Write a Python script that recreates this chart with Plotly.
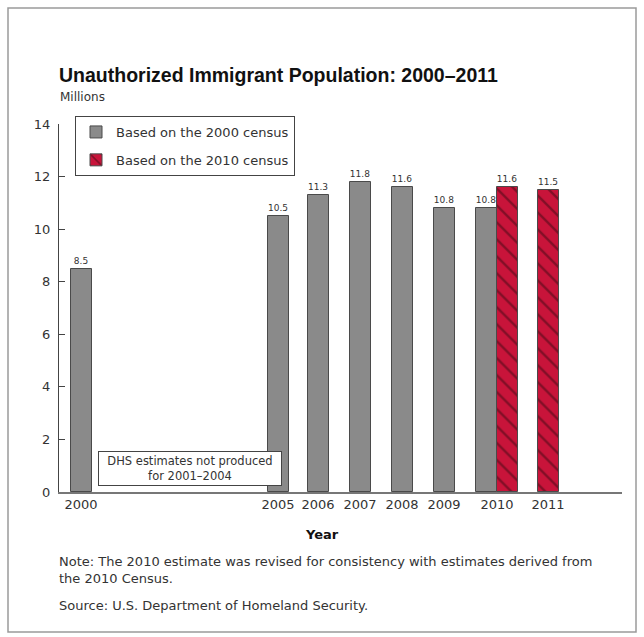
import plotly.graph_objects as go

# ---------------- data ----------------
years = ["2000", "2005", "2006", "2007", "2008", "2009", "2010", "2011"]
census2000_years = ["2000", "2005", "2006", "2007", "2008", "2009", "2010"]
census2000_vals = [8.5, 10.5, 11.3, 11.8, 11.6, 10.8, 10.8]
census2010_years = ["2010", "2011"]
census2010_vals = [11.6, 11.5]
y_ticks = [0, 2, 4, 6, 8, 10, 12, 14]

# ---------------- layout (positions in pixel-like axis units) ----------------
W, H = 644, 637
PL, PR, PT, PB = 59, 622, 124, 492          # plot area in pixels
slot_pos = {"2000": 81, "2005": 278, "2006": 318, "2007": 360,
            "2008": 402, "2009": 444, "2010": 497, "2011": 548}
BW = 21

GREY = "#8a8a8a"
RED = "#c8143a"
EDGE = "#4a4a4a"
TXT = "#333333"
FONT = "DejaVu Sans"
TFONT = "Liberation Sans"


def px_x(x):
    return (x - PL) / (PR - PL)


def px_y(y):
    return (PB - y) / (PB - PT)


shared = set(census2000_years) & set(census2010_years)
off_a = [(-BW if y in shared else -BW / 2) for y in census2000_years]
off_b = [(0 if y in shared else -BW / 2) for y in census2010_years]

fig = go.Figure()
fig.add_trace(go.Bar(
    x=[slot_pos[y] for y in census2000_years], y=census2000_vals,
    width=BW, offset=off_a, name="Based on the 2000 census", legendgroup="a",
    marker=dict(color=GREY, line=dict(color=EDGE, width=1)),
    text=[f"{v:.1f}" for v in census2000_vals], textposition="outside",
    textfont=dict(size=9, color=TXT, family=FONT), cliponaxis=False,
))
fig.add_trace(go.Bar(
    x=[slot_pos[y] for y in census2010_years], y=census2010_vals,
    width=BW, offset=off_b, name="Based on the 2010 census", legendgroup="b",
    marker=dict(color=RED, line=dict(color=EDGE, width=1),
                pattern=dict(shape="\\", fgcolor="#3a0a12", bgcolor=RED,
                             size=12, solidity=0.2)),
    text=[f"{v:.1f}" for v in census2010_vals], textposition="outside",
    textfont=dict(size=9, color=TXT, family=FONT), cliponaxis=False,
))

ann = []
ann.append(dict(text="<b>Unauthorized Immigrant Population: 2000–2011</b>",
                x=px_x(57), y=px_y(75), xref="paper", yref="paper",
                xanchor="left", yanchor="middle", showarrow=False,
                font=dict(size=19.5, color="#111111", family=TFONT)))
ann.append(dict(text="Millions", x=px_x(58), y=px_y(97), xref="paper", yref="paper",
                xanchor="left", yanchor="middle", showarrow=False,
                font=dict(size=12, color=TXT, family=FONT)))
ann.append(dict(text="<b>Year</b>", x=px_x(322), y=px_y(534), xref="paper", yref="paper",
                xanchor="center", yanchor="middle", showarrow=False,
                font=dict(size=13, color="#111111", family=FONT)))
ann.append(dict(text="Note: The 2010 estimate was revised for consistency with estimates derived from<br>the 2010 Census.",
                x=px_x(57), y=px_y(552), xref="paper", yref="paper",
                xanchor="left", yanchor="top", align="left", showarrow=False,
                font=dict(size=13, color=TXT, family=FONT)))
ann.append(dict(text="Source: U.S. Department of Homeland Security.",
                x=px_x(57), y=px_y(605), xref="paper", yref="paper",
                xanchor="left", yanchor="middle", showarrow=False,
                font=dict(size=13, color=TXT, family=FONT)))
ann.append(dict(text="DHS estimates not produced<br>for 2001–2004",
                x=px_x(190), y=px_y(468), xref="paper", yref="paper",
                xanchor="center", yanchor="middle", showarrow=False,
                bordercolor="#444444", borderwidth=1, borderpad=2,
                bgcolor="white", width=178,
                font=dict(size=11.5, color=TXT, family=FONT)))

shapes = [dict(type="rect", xref="paper", yref="paper",
               x0=px_x(8), x1=px_x(636), y0=px_y(632), y1=px_y(8),
               line=dict(color="#9a9a9a", width=1.5), layer="below")]

fig.update_layout(
    width=W, height=H,
    margin=dict(l=PL, r=W - PR, t=PT, b=H - PB),
    paper_bgcolor="white", plot_bgcolor="white",
    barmode="overlay", bargap=0,
    showlegend=True,
    legend=dict(x=px_x(75), y=px_y(116), xanchor="left", yanchor="top",
                bordercolor="#444444", borderwidth=1, bgcolor="white",
                font=dict(size=13, color=TXT, family=FONT),
                tracegroupgap=8, itemwidth=30),
    annotations=ann, shapes=shapes,
    font=dict(family=FONT, color=TXT),
)
fig.update_xaxes(range=[PL, PR], tickvals=[slot_pos[y] for y in years], ticktext=years,
                 showline=True, linecolor="#777777", linewidth=1.5, ticks="",
                 showgrid=False, zeroline=False, tickfont=dict(size=13, color=TXT, family=FONT),
                 fixedrange=True)
fig.update_yaxes(range=[0, 14], tickvals=y_ticks, showline=True, linecolor="#444444",
                 linewidth=1, ticks="inside", ticklen=6, tickcolor="#444444",
                 ticklabelstandoff=5,
                 showgrid=False, zeroline=False, tickfont=dict(size=13, color=TXT, family=FONT),
                 fixedrange=True)

fig.write_html("out.html")
